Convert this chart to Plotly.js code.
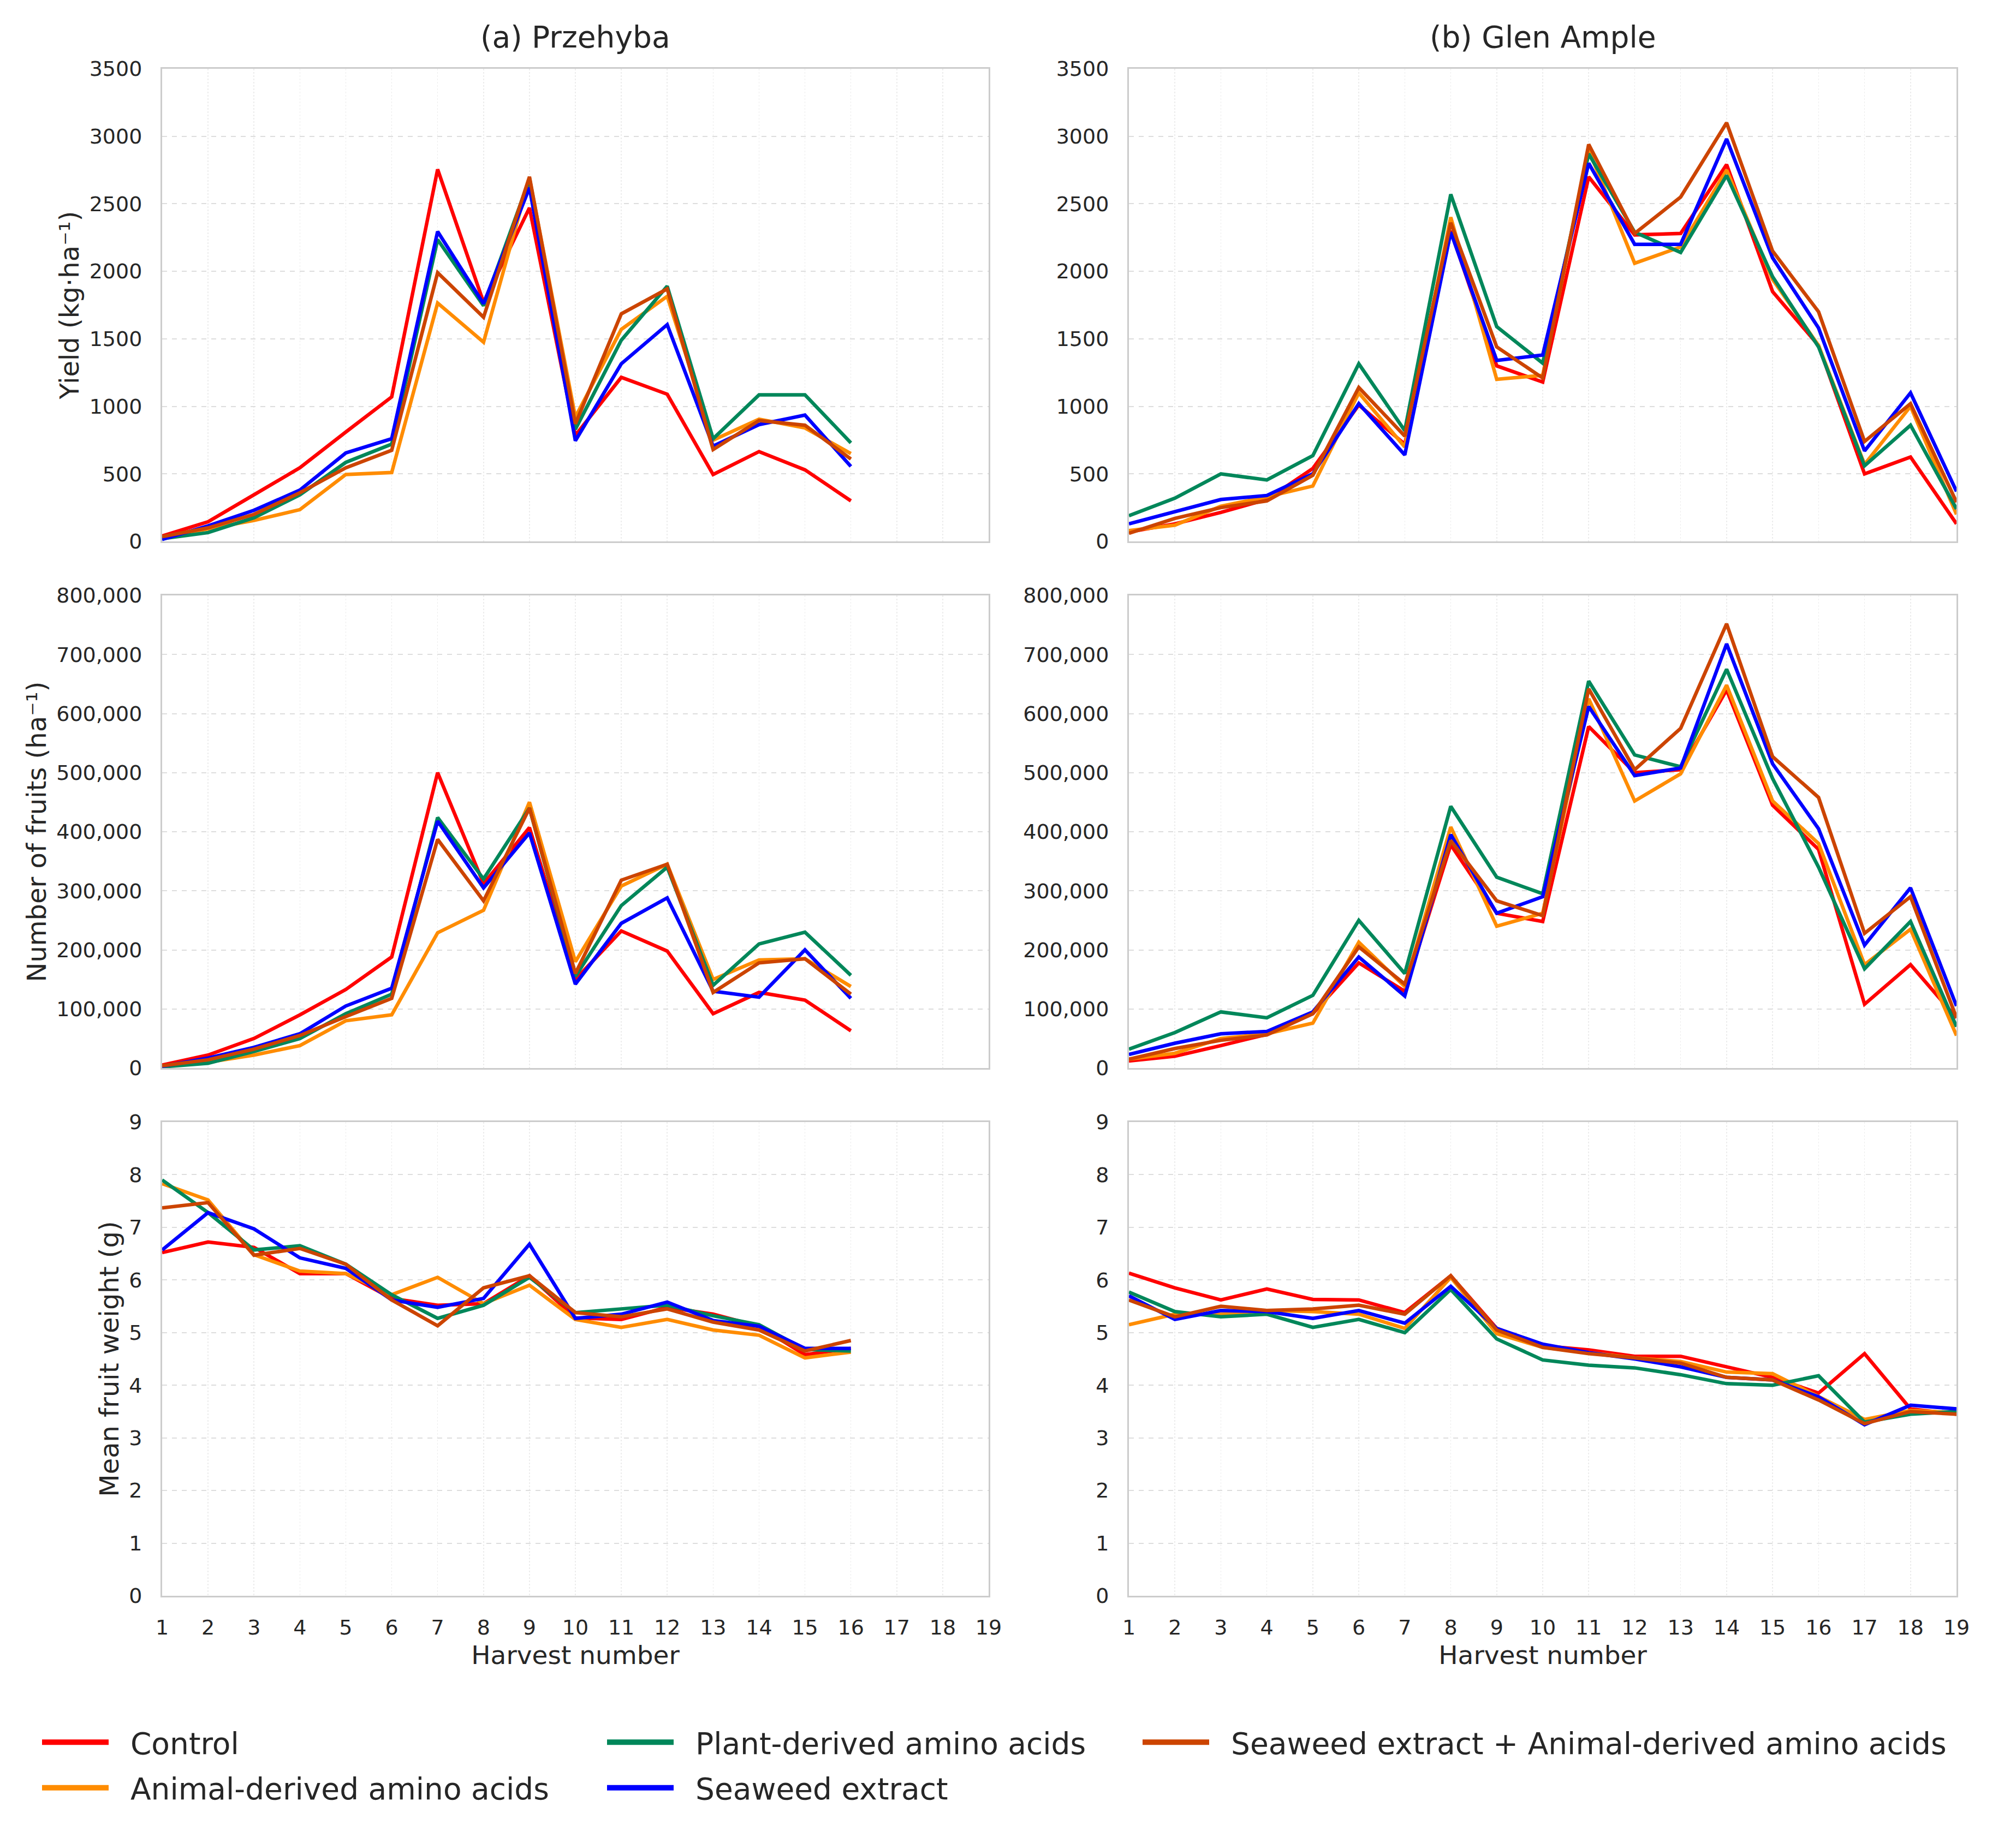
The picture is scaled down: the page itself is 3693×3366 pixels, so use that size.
<!DOCTYPE html>
<html>
<head>
<meta charset="utf-8">
<script src="https://cdn.plot.ly/plotly-3.0.1.min.js"></script>
<style>html,body{margin:0;padding:0;background:#fff}</style>
</head>
<body>
<div id="chart" style="width:3693px;height:3366px"></div>
<script>
'use strict';

// harvest numbers
var harvestsA = [1, 2, 3, 4, 5, 6, 7, 8, 9, 10, 11, 12, 13, 14, 15, 16];
var harvestsB = [1, 2, 3, 4, 5, 6, 7, 8, 9, 10, 11, 12, 13, 14, 15, 16, 17, 18, 19];

var seriesNames = ['Control', 'Animal-derived amino acids', 'Plant-derived amino acids',
	'Seaweed extract', 'Seaweed extract + Animal-derived amino acids'];
var seriesColors = ['#ff0000', '#ff8c00', '#00875a', '#0000ff', '#cc4400'];
var seriesLegends = ['legend', 'legend', 'legend2', 'legend2', 'legend3'];

////////////----- (a) Przehyba -----///////////

var yieldA_control = [40, 145, 345, 545, 810, 1070, 2755, 1770, 2470, 785, 1215, 1090, 495, 665, 530, 300];
var yieldA_animal  = [30, 90, 155, 235, 495, 510, 1765, 1475, 2690, 920, 1570, 1815, 750, 905, 840, 650];
var yieldA_plant   = [20, 65, 175, 345, 585, 720, 2235, 1745, 2680, 830, 1490, 1890, 760, 1085, 1085, 730];
var yieldA_seaweed = [15, 115, 230, 380, 655, 760, 2295, 1760, 2620, 745, 1315, 1605, 705, 865, 935, 555];
var yieldA_mix     = [35, 100, 200, 360, 545, 675, 1990, 1660, 2700, 870, 1685, 1870, 680, 895, 860, 610];

var fruitsA_control = [5000, 22000, 50000, 90000, 133000, 188000, 500000, 312000, 407000, 150000, 232000, 198000, 92000, 128000, 115000, 63000];
var fruitsA_animal  = [3000, 10000, 22000, 38000, 80000, 90000, 229000, 267000, 450000, 180000, 308000, 345000, 150000, 183000, 185000, 138000];
var fruitsA_plant   = [2000, 8000, 28000, 50000, 92000, 125000, 424000, 320000, 440000, 155000, 275000, 340000, 140000, 210000, 230000, 157000];
var fruitsA_seaweed = [3000, 17000, 35000, 58000, 105000, 135000, 418000, 305000, 398000, 142000, 245000, 288000, 130000, 120000, 200000, 118000];
var fruitsA_mix     = [4000, 14000, 32000, 55000, 87000, 118000, 387000, 283000, 440000, 160000, 318000, 345000, 128000, 178000, 185000, 125000];

var weightA_control = [6.52, 6.72, 6.62, 6.12, 6.12, 5.65, 5.52, 5.55, 6.08, 5.28, 5.25, 5.48, 5.35, 5.12, 4.58, 4.70];
var weightA_animal  = [7.83, 7.52, 6.48, 6.17, 6.12, 5.72, 6.05, 5.55, 5.90, 5.25, 5.10, 5.25, 5.05, 4.95, 4.52, 4.63];
var weightA_plant   = [7.90, 7.28, 6.57, 6.65, 6.30, 5.72, 5.27, 5.52, 6.05, 5.38, 5.45, 5.52, 5.32, 5.15, 4.68, 4.65];
var weightA_seaweed = [6.57, 7.28, 6.97, 6.42, 6.22, 5.62, 5.48, 5.65, 6.68, 5.27, 5.35, 5.58, 5.23, 5.12, 4.70, 4.70];
var weightA_mix     = [7.37, 7.47, 6.47, 6.60, 6.30, 5.62, 5.13, 5.85, 6.08, 5.38, 5.30, 5.45, 5.20, 5.05, 4.65, 4.85];

////////////----- (b) Glen Ample -----///////////

var yieldB_control = [70, 130, 215, 310, 540, 1010, 720, 2300, 1300, 1180, 2700, 2270, 2280, 2790, 1850, 1450, 500, 625, 130];
var yieldB_animal  = [80, 120, 260, 330, 410, 1100, 700, 2400, 1200, 1230, 2900, 2060, 2180, 2750, 1940, 1450, 570, 1000, 200];
var yieldB_plant   = [190, 320, 500, 455, 635, 1315, 820, 2570, 1590, 1320, 2870, 2290, 2140, 2710, 1960, 1440, 560, 860, 240];
var yieldB_seaweed = [130, 220, 310, 340, 500, 1020, 640, 2290, 1340, 1380, 2800, 2200, 2200, 2980, 2100, 1580, 670, 1100, 370];
var yieldB_mix     = [60, 170, 250, 300, 490, 1140, 780, 2360, 1440, 1210, 2940, 2280, 2550, 3100, 2150, 1700, 740, 1020, 290];

var fruitsB_control = [12000, 20000, 38000, 57000, 92000, 178000, 130000, 378000, 262000, 248000, 578000, 500000, 505000, 640000, 445000, 370000, 108000, 175000, 85000];
var fruitsB_animal  = [15000, 25000, 50000, 58000, 76000, 213000, 138000, 408000, 240000, 262000, 625000, 452000, 498000, 648000, 452000, 380000, 175000, 235000, 55000];
var fruitsB_plant   = [32000, 60000, 95000, 85000, 123000, 250000, 160000, 443000, 323000, 295000, 655000, 530000, 510000, 675000, 490000, 340000, 168000, 248000, 70000];
var fruitsB_seaweed = [23000, 42000, 58000, 62000, 95000, 188000, 122000, 395000, 262000, 290000, 612000, 495000, 508000, 718000, 515000, 405000, 208000, 305000, 105000];
var fruitsB_mix     = [15000, 33000, 47000, 56000, 92000, 205000, 142000, 385000, 283000, 258000, 642000, 505000, 575000, 752000, 527000, 458000, 228000, 290000, 85000];

var weightB_control = [6.13, 5.85, 5.62, 5.83, 5.63, 5.62, 5.38, 6.08, 5.08, 4.75, 4.67, 4.55, 4.55, 4.35, 4.15, 3.85, 4.60, 3.55, 3.45];
var weightB_animal  = [5.15, 5.35, 5.35, 5.42, 5.40, 5.35, 5.08, 6.05, 4.98, 4.72, 4.62, 4.52, 4.45, 4.25, 4.22, 3.78, 3.35, 3.52, 3.48];
var weightB_plant   = [5.77, 5.40, 5.30, 5.35, 5.10, 5.25, 5.00, 5.82, 4.88, 4.48, 4.38, 4.33, 4.20, 4.03, 4.00, 4.18, 3.30, 3.45, 3.50];
var weightB_seaweed = [5.70, 5.25, 5.42, 5.40, 5.27, 5.42, 5.18, 5.88, 5.08, 4.78, 4.62, 4.50, 4.35, 4.15, 4.10, 3.78, 3.25, 3.62, 3.55];
var weightB_mix     = [5.62, 5.30, 5.50, 5.42, 5.45, 5.52, 5.35, 6.08, 5.05, 4.72, 4.60, 4.52, 4.42, 4.15, 4.10, 3.72, 3.27, 3.50, 3.45];

var panels = [
	{x: harvestsA, sets: [yieldA_control, yieldA_animal, yieldA_plant, yieldA_seaweed, yieldA_mix]},
	{x: harvestsB, sets: [yieldB_control, yieldB_animal, yieldB_plant, yieldB_seaweed, yieldB_mix]},
	{x: harvestsA, sets: [fruitsA_control, fruitsA_animal, fruitsA_plant, fruitsA_seaweed, fruitsA_mix]},
	{x: harvestsB, sets: [fruitsB_control, fruitsB_animal, fruitsB_plant, fruitsB_seaweed, fruitsB_mix]},
	{x: harvestsA, sets: [weightA_control, weightA_animal, weightA_plant, weightA_seaweed, weightA_mix]},
	{x: harvestsB, sets: [weightB_control, weightB_animal, weightB_plant, weightB_seaweed, weightB_mix]}
];

var rowTitles = ['Yield (kg·ha⁻¹)', 'Number of fruits (ha⁻¹)', 'Mean fruit weight (g)'];
var rowRanges = [[0, 3500], [0, 800000], [0, 9]];
var rowDticks = [500, 100000, 1];

var textColor = '#262626';
var font = 'DejaVu Sans, sans-serif';
var W = 3693, H = 3366;

var colDomains = [[297 / W, 1811 / W], [2068 / W, 3584 / W]];
var rowDomains = [[1 - 992 / H, 1 - 126 / H], [1 - 1957 / H, 1 - 1091 / H], [1 - 2924 / H, 1 - 2056 / H]];

var data = [];
var layout = {
	width: W,
	height: H,
	margin: {l: 0, r: 0, t: 0, b: 0},
	paper_bgcolor: '#ffffff',
	plot_bgcolor: '#ffffff',
	font: {family: font, color: textColor, size: 38},
	showlegend: true,
	annotations: [
		{text: '(a) Przehyba', xref: 'paper', yref: 'paper', x: (colDomains[0][0] + colDomains[0][1]) / 2, y: 1 - 68 / H,
			xanchor: 'center', yanchor: 'middle', showarrow: false, font: {size: 55, color: textColor}},
		{text: '(b) Glen Ample', xref: 'paper', yref: 'paper', x: (colDomains[1][0] + colDomains[1][1]) / 2, y: 1 - 68 / H,
			xanchor: 'center', yanchor: 'middle', showarrow: false, font: {size: 55, color: textColor}}
	]
};

var legendBase = {
	orientation: 'v', xanchor: 'left', yanchor: 'top', y: 1 - 3150 / H,
	font: {size: 55, color: textColor}, itemwidth: 122, bgcolor: 'rgba(0,0,0,0)',
	tracegroupgap: 9, itemclick: false
};
layout.legend = Object.assign({}, legendBase, {x: 72 / W});
layout.legend2 = Object.assign({}, legendBase, {x: 1107 / W});
layout.legend3 = Object.assign({}, legendBase, {x: 2088 / W});

panels.forEach(function(p, i) {
	var row = Math.floor(i / 2);
	var col = i % 2;
	var n = i + 1;
	var xa = n === 1 ? 'x' : 'x' + n;
	var ya = n === 1 ? 'y' : 'y' + n;

	p.sets.forEach(function(vals, s) {
		data.push({
			x: p.x, y: vals, xaxis: xa, yaxis: ya,
			type: 'scatter', mode: 'lines',
			name: seriesNames[s],
			line: {color: seriesColors[s], width: 6.5},
			showlegend: false, hoverinfo: 'skip'
		});
	});

	layout['xaxis' + (n === 1 ? '' : n)] = {
		domain: colDomains[col], anchor: ya,
		range: [1, 19], tick0: 1, dtick: 1,
		showticklabels: row === 2, ticklabelstandoff: 22,
		tickfont: {size: 38, color: textColor},
		showgrid: true, gridcolor: '#ececec', gridwidth: 1.5, griddash: 'dot',
		zeroline: false, showline: true, linecolor: '#cccccc', linewidth: 3, mirror: true,
		ticks: '',
		title: row === 2 ? {text: 'Harvest number', font: {size: 47, color: textColor}, standoff: 14} : {text: ''}
	};
	layout['yaxis' + (n === 1 ? '' : n)] = {
		domain: rowDomains[row], anchor: xa,
		range: rowRanges[row], dtick: rowDticks[row], tick0: 0,
		tickformat: row === 1 ? ',d' : 'd',
		ticklabelstandoff: 26,
		tickfont: {size: 38, color: textColor},
		showgrid: true, gridcolor: '#dddddd', gridwidth: 2, griddash: 'dash',
		zeroline: false, showline: true, linecolor: '#cccccc', linewidth: 3, mirror: true,
		ticks: '',
		title: col === 0 ? {text: rowTitles[row], font: {size: 48, color: textColor}, standoff: 4} : {text: ''}
	};
});

// legend entries (drawn in the three legend columns); the padding keeps a gap after the line sample
seriesNames.forEach(function(name, s) {
	data.push({
		x: [null], y: [null], type: 'scatter', mode: 'lines',
		name: '\u00a0\u00a0' + name, legend: seriesLegends[s], legendgroup: 'g' + s,
		line: {color: seriesColors[s], width: 10},
		showlegend: true, hoverinfo: 'skip'
	});
});

Plotly.newPlot('chart', data, layout, {staticPlot: true});
</script>
</body>
</html>
